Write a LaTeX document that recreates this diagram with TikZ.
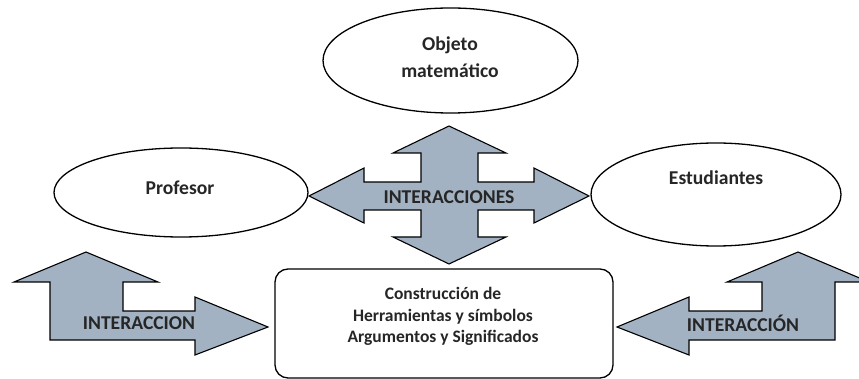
\documentclass[tikz,border=0pt]{standalone}
\usepackage{fontspec}
\setmainfont{Carlito}
\usetikzlibrary{shapes.geometric}
\definecolor{arrowfill}{RGB}{162,178,195}
\definecolor{txt}{RGB}{38,38,38}
\tikzset{
  oval/.style={ellipse, draw=black, line width=1.3pt, fill=white, inner sep=0pt},
  bigtext/.style={text=txt, font=\bfseries\fontsize{19.6}{27}\selectfont, align=center, inner sep=0pt},
  boxtext/.style={text=txt, font=\bfseries\fontsize{17.5}{21.5}\selectfont, align=center, inner sep=0pt},
  blockarrow/.style={draw=black, line width=1.1pt, fill=arrowfill, line join=miter},
  roundbox/.style={draw=black, line width=1.3pt, rounded corners=13pt, fill=white}
}
\begin{document}
\begin{tikzpicture}[x=1pt,y=-1pt]
\useasboundingbox (0,0) rectangle (859,379);
\clip (0,0) rectangle (859,379);
% ellipses
\node[oval, minimum width=255pt, minimum height=105pt] (obj) at (450.5,60.5) {};
\node[bigtext] (objt) at (450,57) {Objeto\\matemático};
\node[oval, minimum width=254pt, minimum height=89pt] (prof) at (181,192.5) {};
\node[bigtext] (proft) at (180,188) {Profesor};
\node[oval, minimum width=250pt, minimum height=103pt] (est) at (716,194.5) {};
\node[bigtext] (estt) at (716,178) {Estudiantes};
% central box
\draw[roundbox] (275,269) rectangle (613,378);
\coordinate (boxc) at (444,323);
\node[boxtext] (boxt) at (443,316.5) {Construcción de\\Herramientas y símbolos\\Argumentos y Significados};
% quad arrow
\draw[blockarrow] (449,126) -- (506,153) -- (478,153) -- (478,182) -- (534,182) -- (534,168)
  -- (589,196) -- (534,223) -- (534,210) -- (478,210) -- (478,237) -- (506,237) -- (449,264)
  -- (393,237) -- (421,237) -- (421,210) -- (364,210) -- (364,223) -- (309,196) -- (364,168)
  -- (364,182) -- (421,182) -- (421,153) -- (393,153) -- cycle;
\node[bigtext] (inter) at (449,197) {INTERACCIONES};
% left bent arrow
\draw[blockarrow] (86,252) -- (158,282) -- (123,282) -- (123,311) -- (195,311) -- (195,297)
  -- (268,327) -- (195,355) -- (195,340) -- (50,340) -- (50,282) -- (14,282) -- cycle;
\node[bigtext] (interl) at (139,323) {INTERACCION};
% right bent arrow
\draw[blockarrow] (798,252) -- (869,282) -- (835,282) -- (835,340) -- (689,340) -- (689,355)
  -- (617,327) -- (689,297) -- (689,311) -- (762,311) -- (762,282) -- (727,282) -- cycle;
\node[bigtext] (interr) at (743,323) {INTERACCIÓN};
\end{tikzpicture}
\end{document}
